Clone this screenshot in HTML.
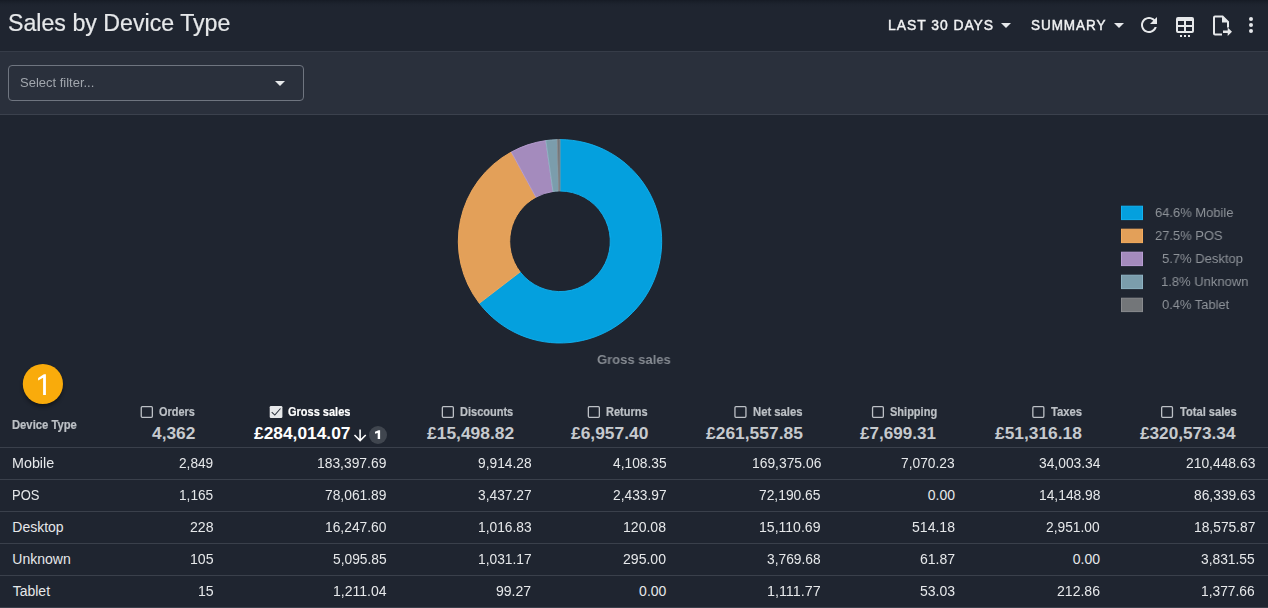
<!DOCTYPE html>
<html><head><meta charset="utf-8">
<style>
html,body{margin:0;padding:0;}
body{width:1268px;height:608px;overflow:hidden;background:#1f2530;font-family:"Liberation Sans",sans-serif;position:relative;}
.abs{position:absolute;}
.t{position:absolute;white-space:nowrap;line-height:1;transform-origin:left center;}
.caret{width:0;height:0;border-left:5px solid transparent;border-right:5px solid transparent;border-top:5px solid #e6e8ea;}
.rowline{left:0;width:1268px;height:1px;background:#3a404b;}
</style></head><body>
<div class="abs" style="left:0;top:0;width:1268px;height:7px;background:linear-gradient(#161b25 0%,#1a202a 30%,#1d232e 60%,#1f2530 100%);"></div>
<div class="abs" style="left:0;top:51px;width:1268px;height:1px;background:#363c48;"></div>
<div class="abs" style="left:0;top:52px;width:1268px;height:62px;background:#2a303c;"></div>
<div class="abs" style="left:0;top:114px;width:1268px;height:1px;background:#3b414d;"></div>
<div class="abs" style="left:8px;top:65px;width:294px;height:34px;border:1px solid #6f7580;border-radius:4px;"></div>
<div class="abs caret" style="left:275px;top:81px;"></div>
<div class="abs caret" style="left:1000.5px;top:23px;"></div>
<div class="abs caret" style="left:1114px;top:23px;"></div>
<div class="abs rowline" style="top:447px"></div><div class="abs rowline" style="top:479px"></div><div class="abs rowline" style="top:511px"></div><div class="abs rowline" style="top:543px"></div><div class="abs rowline" style="top:575px"></div><div class="abs rowline" style="top:607px"></div>
<svg class="abs" style="left:0;top:0" width="1268" height="608" viewBox="0 0 1268 608">
<path d="M560.00,139.60 A101.7,101.7 0 1 1 479.35,303.26 L520.11,271.95 A50.3,50.3 0 1 0 560.00,191.00 Z" fill="#04a0de" stroke="#12b2f1" stroke-width="0.9" stroke-linejoin="round"/>
<path d="M479.35,303.26 A101.7,101.7 0 0 1 511.33,152.00 L535.93,197.13 A50.3,50.3 0 0 0 520.11,271.95 Z" fill="#e3a059" stroke="#f3ab5d" stroke-width="0.9" stroke-linejoin="round"/>
<path d="M511.33,152.00 A101.7,101.7 0 0 1 545.86,140.59 L553.00,191.49 A50.3,50.3 0 0 0 535.93,197.13 Z" fill="#a48bbd" stroke="#b89ed3" stroke-width="0.9" stroke-linejoin="round"/>
<path d="M545.86,140.59 A101.7,101.7 0 0 1 557.28,139.64 L558.65,191.02 A50.3,50.3 0 0 0 553.00,191.49 Z" fill="#7b9dac" stroke="#8eb3c3" stroke-width="0.9" stroke-linejoin="round"/>
<path d="M557.28,139.64 A101.7,101.7 0 0 1 560.00,139.60 L560.00,191.00 A50.3,50.3 0 0 0 558.65,191.02 Z" fill="#737679" stroke="#898b8e" stroke-width="0.9" stroke-linejoin="round"/>

<rect x="1121.5" y="206.2" width="21" height="13.4" fill="#04a0de" stroke="#12b2f1" stroke-width="1"/><rect x="1121.5" y="229.2" width="21" height="13.4" fill="#e3a059" stroke="#f3ab5d" stroke-width="1"/><rect x="1121.5" y="252.2" width="21" height="13.4" fill="#a48bbd" stroke="#b89ed3" stroke-width="1"/><rect x="1121.5" y="275.2" width="21" height="13.4" fill="#7b9dac" stroke="#8eb3c3" stroke-width="1"/><rect x="1121.5" y="298.2" width="21" height="13.4" fill="#737679" stroke="#898b8e" stroke-width="1"/>
<g fill="#e6e8ea">
<g transform="translate(1137,13)"><path d="M17.65 6.35C16.2 4.9 14.21 4 12 4c-4.42 0-7.99 3.58-7.99 8s3.57 8 7.99 8c3.73 0 6.84-2.55 7.73-6h-2.08c-.82 2.33-3.04 4-5.65 4-3.31 0-6-2.69-6-6s2.69-6 6-6c1.66 0 3.14.69 4.22 1.78L13 11h7V4l-2.35 2.35z"/></g>
<g transform="translate(1173,13)"><path d="M5,4H19A2,2 0 0,1 21,6V18A2,2 0 0,1 19,20H5A2,2 0 0,1 3,18V6A2,2 0 0,1 5,4M5,8V12H11V8H5M13,8V12H19V8H13M5,14V18H11V14H5M13,14V18H19V14H13Z"/><rect x="7" y="22" width="2" height="2"/><rect x="11" y="22" width="2" height="2"/><rect x="15" y="22" width="2" height="2"/></g>
<g transform="translate(1209,13.5)"><path d="M14,2H6A2,2 0 0,0 4,4V20A2,2 0 0,0 6,22H13V20H6V4H13V9H18V14H20V8L14,2Z M23,18.3L18.7,14V17.1H14V19.5H18.7V22.6Z"/></g>
<g transform="translate(1239,13)"><circle cx="12" cy="6" r="2"/><circle cx="12" cy="12" r="2"/><circle cx="12" cy="18" r="2"/></g>
</g>
<defs><filter id="sh" x="-50%" y="-50%" width="200%" height="200%"><feGaussianBlur stdDeviation="2.2"/></filter></defs>
<circle cx="42.9" cy="387" r="19.5" fill="#000" opacity="0.45" filter="url(#sh)"/>
<circle cx="42.9" cy="384" r="20.1" fill="#f9ab0b"/>
<path d="M45.9,374.2V394.9H43.1V377.7L38.1,380.5V378L43.9,374.2Z" fill="#fff"/>
<rect x="141.25" y="406.65" width="11.10" height="10.7" rx="1" fill="none" stroke="#bcc0c5" stroke-width="1.3"/>
<rect x="269.7" y="406" width="12.7" height="12" rx="1.3" fill="#e6e8ea"/><path d="M271.7,412.2L274.8,415.1L280.5,408.5" stroke="#2a303b" stroke-width="1.05" fill="none"/>
<rect x="442.35" y="406.65" width="11.00" height="10.7" rx="1" fill="none" stroke="#bcc0c5" stroke-width="1.3"/>
<rect x="588.35" y="406.65" width="11.00" height="10.7" rx="1" fill="none" stroke="#bcc0c5" stroke-width="1.3"/>
<rect x="734.95" y="406.65" width="11.00" height="10.7" rx="1" fill="none" stroke="#bcc0c5" stroke-width="1.3"/>
<rect x="872.55" y="406.65" width="10.80" height="10.7" rx="1" fill="none" stroke="#bcc0c5" stroke-width="1.3"/>
<rect x="1032.85" y="406.65" width="11.00" height="10.7" rx="1" fill="none" stroke="#bcc0c5" stroke-width="1.3"/>
<rect x="1161.65" y="406.65" width="10.80" height="10.7" rx="1" fill="none" stroke="#bcc0c5" stroke-width="1.3"/>

<g transform="translate(350.74,426.3) scale(0.78)" fill="#fff"><path d="M11,4H13V16L18.5,10.5L19.92,11.92L12,19.84L4.08,11.92L5.5,10.5L11,16V4Z"/></g>
<circle cx="378" cy="435" r="9" fill="#40464f"/>
<path d="M380.1,430.2V438.9H377.7V432.9L375,433.8V431.8L378.6,430.2Z" fill="#fff"/>
</svg>
<div class="t" id="title" style="left:7.64px;top:10.51px;font-size:24.2px;color:#e6e8ea;transform:translateY(0px) scaleX(0.9579);-webkit-text-stroke:0.2px #e6e8ea;">Sales by Device Type</div>
<div class="t" id="seltxt" style="left:20.30px;top:75.97px;font-size:13.5px;color:#a1a6ad;transform:translateY(0px) scaleX(0.9617);">Select filter...</div>
<div class="t" id="b1" style="left:887.63px;top:17.61px;font-size:14.4px;color:#f1f2f3;transform:translateY(0px) scaleX(0.9655);letter-spacing:1px;-webkit-text-stroke:0.45px #f1f2f3;">LAST 30 DAYS</div>
<div class="t" id="b2" style="left:1030.70px;top:17.61px;font-size:14.4px;color:#f1f2f3;transform:translateY(0px) scaleX(0.9386);letter-spacing:1px;-webkit-text-stroke:0.45px #f1f2f3;">SUMMARY</div>
<div class="t" id="gs" style="left:597.10px;top:352.57px;font-size:13.5px;color:#858a91;font-weight:bold;transform:translateY(0px) scaleX(0.9639);will-change:transform;">Gross sales</div>
<div class="t" id="devtype" style="left:12.40px;top:418.74px;font-size:12px;color:#bcc0c5;font-weight:bold;transform:translateY(0px) scaleX(0.9371);-webkit-text-stroke:0.2px #bcc0c5;">Device Type</div>
<div class="t" id="n0" style="left:12.18px;top:455.75px;font-size:14px;color:#e6e8ea;transform:translateY(0px) scaleX(1.0234);">Mobile</div>
<div class="t" id="n1" style="left:12.37px;top:487.75px;font-size:14px;color:#e6e8ea;transform:translateY(0px) scaleX(0.9282);">POS</div>
<div class="t" id="n2" style="left:12.30px;top:519.75px;font-size:14px;color:#e6e8ea;">Desktop</div>
<div class="t" id="n3" style="left:12.30px;top:551.75px;font-size:14px;color:#e6e8ea;">Unknown</div>
<div class="t" id="n4" style="left:12.70px;top:583.75px;font-size:14px;color:#e6e8ea;">Tablet</div>
<div class="t" id="h0" style="left:159.00px;top:405.84px;font-size:12px;color:#bcc0c5;font-weight:bold;transform:translateY(0px) scaleX(0.9098);-webkit-text-stroke:0.2px #bcc0c5;">Orders</div>
<div class="t" id="tot0" style="left:151.90px;top:425.42px;font-size:16.4px;color:#c6cace;font-weight:bold;transform:translateY(0.4px) scaleX(1.0562);">4,362</div>
<div class="t" id="v0_0" style="left:179.09px;top:455.75px;font-size:14px;color:#e6e8ea;transform:translateY(0px) scaleX(0.9761);">2,849</div>
<div class="t" id="v0_1" style="left:179.09px;top:487.75px;font-size:14px;color:#e6e8ea;transform:translateY(0px) scaleX(0.9761);">1,165</div>
<div class="t" id="v0_2" style="left:189.70px;top:519.75px;font-size:14px;color:#e6e8ea;transform:translateY(0px) scaleX(1.0098);">228</div>
<div class="t" id="v0_3" style="left:189.70px;top:551.75px;font-size:14px;color:#e6e8ea;transform:translateY(0px) scaleX(1.0098);">105</div>
<div class="t" id="v0_4" style="left:197.56px;top:583.75px;font-size:14px;color:#e6e8ea;transform:translateY(0px) scaleX(1.0098);">15</div>
<div class="t" id="h1" style="left:288.10px;top:405.84px;font-size:12px;color:#ffffff;font-weight:bold;transform:translateY(0px) scaleX(0.9171);-webkit-text-stroke:0.2px #ffffff;">Gross sales</div>
<div class="t" id="tot1" style="left:254.10px;top:425.42px;font-size:16.4px;color:#ffffff;font-weight:bold;transform:translateY(0.4px) scaleX(1.0579);">£284,014.07</div>
<div class="t" id="v1_0" style="left:317.46px;top:455.75px;font-size:14px;color:#e6e8ea;transform:translateY(0px) scaleX(0.9895);">183,397.69</div>
<div class="t" id="v1_1" style="left:325.32px;top:487.75px;font-size:14px;color:#e6e8ea;transform:translateY(0px) scaleX(0.9870);">78,061.89</div>
<div class="t" id="v1_2" style="left:325.32px;top:519.75px;font-size:14px;color:#e6e8ea;transform:translateY(0px) scaleX(0.9870);">16,247.60</div>
<div class="t" id="v1_3" style="left:333.18px;top:551.75px;font-size:14px;color:#e6e8ea;transform:translateY(0px) scaleX(0.9837);">5,095.85</div>
<div class="t" id="v1_4" style="left:333.18px;top:583.75px;font-size:14px;color:#e6e8ea;transform:translateY(0px) scaleX(1.0028);">1,211.04</div>
<div class="t" id="h2" style="left:460.20px;top:405.84px;font-size:12px;color:#bcc0c5;font-weight:bold;transform:translateY(0px) scaleX(0.9171);-webkit-text-stroke:0.2px #bcc0c5;">Discounts</div>
<div class="t" id="tot2" style="left:426.60px;top:425.42px;font-size:16.4px;color:#c6cace;font-weight:bold;transform:translateY(0.4px) scaleX(1.0633);">£15,498.82</div>
<div class="t" id="v2_0" style="left:477.78px;top:455.75px;font-size:14px;color:#e6e8ea;transform:translateY(0px) scaleX(0.9837);">9,914.28</div>
<div class="t" id="v2_1" style="left:477.78px;top:487.75px;font-size:14px;color:#e6e8ea;transform:translateY(0px) scaleX(0.9837);">3,437.27</div>
<div class="t" id="v2_2" style="left:477.78px;top:519.75px;font-size:14px;color:#e6e8ea;transform:translateY(0px) scaleX(0.9837);">1,016.83</div>
<div class="t" id="v2_3" style="left:477.78px;top:551.75px;font-size:14px;color:#e6e8ea;transform:translateY(0px) scaleX(0.9837);">1,031.17</div>
<div class="t" id="v2_4" style="left:496.25px;top:583.75px;font-size:14px;color:#e6e8ea;transform:translateY(0px) scaleX(1.0029);">99.27</div>
<div class="t" id="h3" style="left:606.20px;top:405.84px;font-size:12px;color:#bcc0c5;font-weight:bold;transform:translateY(0px) scaleX(0.9153);-webkit-text-stroke:0.2px #bcc0c5;">Returns</div>
<div class="t" id="tot3" style="left:570.70px;top:425.42px;font-size:16.4px;color:#c6cace;font-weight:bold;transform:translateY(0.4px) scaleX(1.0618);">£6,957.40</div>
<div class="t" id="v3_0" style="left:612.78px;top:455.75px;font-size:14px;color:#e6e8ea;transform:translateY(0px) scaleX(0.9837);">4,108.35</div>
<div class="t" id="v3_1" style="left:612.78px;top:487.75px;font-size:14px;color:#e6e8ea;transform:translateY(0px) scaleX(0.9837);">2,433.97</div>
<div class="t" id="v3_2" style="left:623.39px;top:519.75px;font-size:14px;color:#e6e8ea;transform:translateY(0px) scaleX(1.0041);">120.08</div>
<div class="t" id="v3_3" style="left:623.39px;top:551.75px;font-size:14px;color:#e6e8ea;transform:translateY(0px) scaleX(1.0041);">295.00</div>
<div class="t" id="v3_4" style="left:639.11px;top:583.75px;font-size:14px;color:#e6e8ea;">0.00</div>
<div class="t" id="h4" style="left:753.00px;top:405.84px;font-size:12px;color:#bcc0c5;font-weight:bold;transform:translateY(0px) scaleX(0.9392);-webkit-text-stroke:0.2px #bcc0c5;">Net sales</div>
<div class="t" id="tot4" style="left:706.00px;top:425.42px;font-size:16.4px;color:#c6cace;font-weight:bold;transform:translateY(0.4px) scaleX(1.0633);">£261,557.85</div>
<div class="t" id="v4_0" style="left:751.56px;top:455.75px;font-size:14px;color:#e6e8ea;transform:translateY(0px) scaleX(0.9895);">169,375.06</div>
<div class="t" id="v4_1" style="left:759.42px;top:487.75px;font-size:14px;color:#e6e8ea;transform:translateY(0px) scaleX(0.9870);">72,190.65</div>
<div class="t" id="v4_2" style="left:759.42px;top:519.75px;font-size:14px;color:#e6e8ea;transform:translateY(0px) scaleX(1.0037);">15,110.69</div>
<div class="t" id="v4_3" style="left:767.28px;top:551.75px;font-size:14px;color:#e6e8ea;transform:translateY(0px) scaleX(0.9837);">3,769.68</div>
<div class="t" id="v4_4" style="left:767.27px;top:583.75px;font-size:14px;color:#e6e8ea;transform:translateY(0px) scaleX(1.0227);">1,111.77</div>
<div class="t" id="h5" style="left:889.90px;top:405.84px;font-size:12px;color:#bcc0c5;font-weight:bold;transform:translateY(0px) scaleX(0.9178);-webkit-text-stroke:0.2px #bcc0c5;">Shipping</div>
<div class="t" id="tot5" style="left:859.80px;top:425.42px;font-size:16.4px;color:#c6cace;font-weight:bold;transform:translateY(0.4px) scaleX(1.0412);">£7,699.31</div>
<div class="t" id="v5_0" style="left:901.48px;top:455.75px;font-size:14px;color:#e6e8ea;transform:translateY(0px) scaleX(0.9837);">7,070.23</div>
<div class="t" id="v5_1" style="left:927.81px;top:487.75px;font-size:14px;color:#e6e8ea;">0.00</div>
<div class="t" id="v5_2" style="left:912.09px;top:519.75px;font-size:14px;color:#e6e8ea;transform:translateY(0px) scaleX(1.0041);">514.18</div>
<div class="t" id="v5_3" style="left:919.95px;top:551.75px;font-size:14px;color:#e6e8ea;transform:translateY(0px) scaleX(1.0029);">61.87</div>
<div class="t" id="v5_4" style="left:919.95px;top:583.75px;font-size:14px;color:#e6e8ea;transform:translateY(0px) scaleX(1.0029);">53.03</div>
<div class="t" id="h6" style="left:1050.50px;top:405.84px;font-size:12px;color:#bcc0c5;font-weight:bold;transform:translateY(0px) scaleX(0.9384);-webkit-text-stroke:0.2px #bcc0c5;">Taxes</div>
<div class="t" id="tot6" style="left:995.10px;top:425.42px;font-size:16.4px;color:#c6cace;font-weight:bold;transform:translateY(0.4px) scaleX(1.0596);">£51,316.18</div>
<div class="t" id="v6_0" style="left:1038.62px;top:455.75px;font-size:14px;color:#e6e8ea;transform:translateY(0px) scaleX(0.9870);">34,003.34</div>
<div class="t" id="v6_1" style="left:1038.62px;top:487.75px;font-size:14px;color:#e6e8ea;transform:translateY(0px) scaleX(0.9870);">14,148.98</div>
<div class="t" id="v6_2" style="left:1046.48px;top:519.75px;font-size:14px;color:#e6e8ea;transform:translateY(0px) scaleX(0.9837);">2,951.00</div>
<div class="t" id="v6_3" style="left:1072.81px;top:551.75px;font-size:14px;color:#e6e8ea;">0.00</div>
<div class="t" id="v6_4" style="left:1057.09px;top:583.75px;font-size:14px;color:#e6e8ea;transform:translateY(0px) scaleX(1.0041);">212.86</div>
<div class="t" id="h7" style="left:1179.70px;top:405.84px;font-size:12px;color:#bcc0c5;font-weight:bold;transform:translateY(0px) scaleX(0.9274);-webkit-text-stroke:0.2px #bcc0c5;">Total sales</div>
<div class="t" id="tot7" style="left:1140.30px;top:425.42px;font-size:16.4px;color:#c6cace;font-weight:bold;transform:translateY(0.4px) scaleX(1.0474);">£320,573.34</div>
<div class="t" id="v7_0" style="left:1185.76px;top:455.75px;font-size:14px;color:#e6e8ea;transform:translateY(0px) scaleX(0.9895);">210,448.63</div>
<div class="t" id="v7_1" style="left:1193.62px;top:487.75px;font-size:14px;color:#e6e8ea;transform:translateY(0px) scaleX(0.9870);">86,339.63</div>
<div class="t" id="v7_2" style="left:1193.62px;top:519.75px;font-size:14px;color:#e6e8ea;transform:translateY(0px) scaleX(0.9870);">18,575.87</div>
<div class="t" id="v7_3" style="left:1201.48px;top:551.75px;font-size:14px;color:#e6e8ea;transform:translateY(0px) scaleX(0.9837);">3,831.55</div>
<div class="t" id="v7_4" style="left:1201.48px;top:583.75px;font-size:14px;color:#e6e8ea;transform:translateY(0px) scaleX(0.9837);">1,377.66</div>
<div class="t" id="l0" style="left:1155.20px;top:206.07px;font-size:13.5px;color:#8e9399;transform:translateY(0px) scaleX(0.9595);will-change:transform;">64.6% Mobile</div>
<div class="t" id="l1" style="left:1155.20px;top:229.07px;font-size:13.5px;color:#8e9399;transform:translateY(0px) scaleX(0.9584);will-change:transform;">27.5% POS</div>
<div class="t" id="l2" style="left:1161.80px;top:252.07px;font-size:13.5px;color:#8e9399;transform:translateY(0px) scaleX(0.9636);will-change:transform;">5.7% Desktop</div>
<div class="t" id="l3" style="left:1161.44px;top:275.07px;font-size:13.5px;color:#8e9399;transform:translateY(0px) scaleX(0.9631);will-change:transform;">1.8% Unknown</div>
<div class="t" id="l4" style="left:1161.80px;top:298.07px;font-size:13.5px;color:#8e9399;transform:translateY(0px) scaleX(0.9563);will-change:transform;">0.4% Tablet</div>
</body></html>
